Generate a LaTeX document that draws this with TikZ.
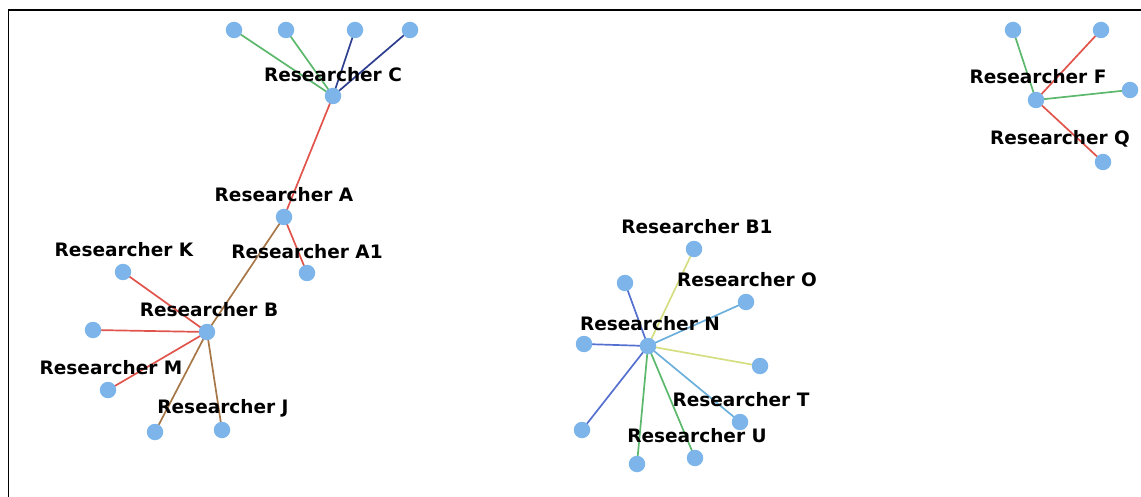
\documentclass[tikz,border=0pt]{standalone}
\usepackage{fontspec}
\setmainfont{DejaVu Sans}
\usetikzlibrary{backgrounds}
\begin{document}
\begin{tikzpicture}[x=1pt,y=-1pt,
  dot/.style={circle,fill=nodeblue,inner sep=0pt,minimum size=16.5pt},
  lbl/.style={font=\fontsize{18.5}{20}\selectfont\bfseries,text=black,inner sep=0pt},
  e/.style={line width=1.7pt},
  eg/.style={e,draw=egreen},
  en/.style={e,draw=enavy},
  er/.style={e,draw=ered},
  eb/.style={e,draw=ebrown},
  ey/.style={e,draw=eyellow},
  el/.style={e,draw=elblue},
  ebl/.style={e,draw=eblue}]
\definecolor{nodeblue}{HTML}{7DB5EA}
\definecolor{egreen}{HTML}{5CB86C}
\definecolor{enavy}{HTML}{2E3F8F}
\definecolor{ered}{HTML}{E0544C}
\definecolor{ebrown}{HTML}{A87748}
\definecolor{eyellow}{HTML}{D5DE80}
\definecolor{elblue}{HTML}{6BAFDC}
\definecolor{eblue}{HTML}{5670CF}
\useasboundingbox (0,0) rectangle (1141,497);
\draw[line width=1.8pt,black] (8.5,497) -- (8.5,10) -- (1141,10);

% cluster 1 nodes
\node[dot] (c1) at (234,30) {};
\node[dot] (c2) at (286,30) {};
\node[dot] (c3) at (355,30) {};
\node[dot] (c4) at (410,30) {};
\node[dot] (C) at (333,96) {};
\node[dot] (A) at (284,217) {};
\node[dot] (A1) at (307,273) {};
\node[dot] (K) at (123,272) {};
\node[dot] (B) at (207,332) {};
\node[dot] (b1) at (93,330) {};
\node[dot] (M) at (108,390) {};
\node[dot] (J1) at (155,432) {};
\node[dot] (J) at (222,430) {};

% cluster 2 nodes
\node[dot] (N) at (648,346) {};
\node[dot] (B1) at (694,249) {};
\node[dot] (O) at (746,302) {};
\node[dot] (n1) at (625,283) {};
\node[dot] (n2) at (584,344) {};
\node[dot] (n3) at (760,366) {};
\node[dot] (T) at (740,422) {};
\node[dot] (n4) at (582,430) {};
\node[dot] (n5) at (637,464) {};
\node[dot] (U) at (695,458) {};

% cluster 3 nodes
\node[dot] (F) at (1036,100) {};
\node[dot] (f1) at (1013,30) {};
\node[dot] (f2) at (1101,30) {};
\node[dot] (f3) at (1130,90) {};
\node[dot] (Q) at (1103,162) {};

% edges (behind the dots)
\begin{scope}[on background layer]
\draw[eg] (C.center) -- (c1.center);
\draw[eg] (C.center) -- (c2.center);
\draw[en] (C.center) -- (c3.center);
\draw[en] (C.center) -- (c4.center);
\draw[er] (C.center) -- (A.center);
\draw[er] (A.center) -- (A1.center);
\draw[eb] (A.center) -- (B.center);
\draw[er] (B.center) -- (K.center);
\draw[er] (B.center) -- (b1.center);
\draw[er] (B.center) -- (M.center);
\draw[eb] (B.center) -- (J1.center);
\draw[eb] (B.center) -- (J.center);

\draw[ey] (N.center) -- (B1.center);
\draw[el] (N.center) -- (O.center);
\draw[ebl] (N.center) -- (n1.center);
\draw[ebl] (N.center) -- (n2.center);
\draw[ey] (N.center) -- (n3.center);
\draw[el] (N.center) -- (T.center);
\draw[ebl] (N.center) -- (n4.center);
\draw[eg] (N.center) -- (n5.center);
\draw[eg] (N.center) -- (U.center);

\draw[eg] (F.center) -- (f1.center);
\draw[er] (F.center) -- (f2.center);
\draw[eg] (F.center) -- (f3.center);
\draw[er] (F.center) -- (Q.center);
\end{scope}

% labels
\node[lbl] (lC) at (333,75) {Researcher C};
\node[lbl] (lA) at (284,195) {Researcher A};
\node[lbl] (lA1) at (307,252) {Researcher A1};
\node[lbl] (lK) at (124,250) {Researcher K};
\node[lbl] (lB) at (209,310) {Researcher B};
\node[lbl] (lM) at (111,368) {Researcher M};
\node[lbl] (lJ) at (223,408) {Researcher J};
\node[lbl] (lN) at (650,324) {Researcher N};
\node[lbl] (lB1) at (697,227) {Researcher B1};
\node[lbl] (lO) at (747,280) {Researcher O};
\node[lbl] (lT) at (741,400) {Researcher T};
\node[lbl] (lU) at (697,436) {Researcher U};
\node[lbl] (lF) at (1038,77) {Researcher F};
\node[lbl] (lQ) at (1060,139) {Researcher Q};
\end{tikzpicture}
\end{document}
